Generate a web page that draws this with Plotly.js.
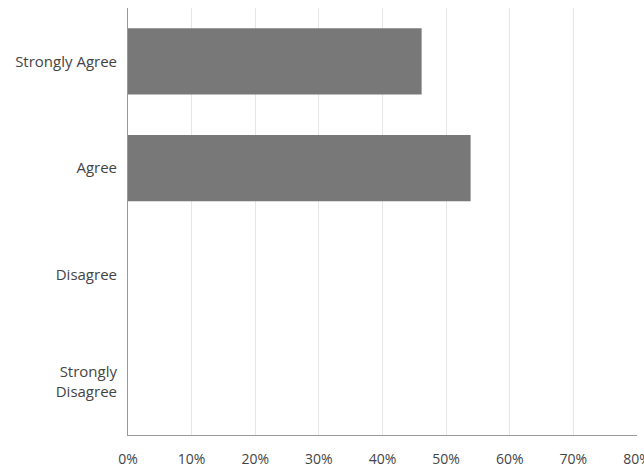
<!DOCTYPE html>
<html>
<head>
<meta charset="utf-8">
<script src="https://cdn.plot.ly/plotly-3.0.1.min.js"></script>
<style>
  html, body { margin: 0; padding: 0; background: #ffffff; }
  #chart { width: 644px; height: 472px; }
</style>
</head>
<body>
<div id="chart"></div>
<script>
const categories = ["Strongly Agree", "Agree", "Disagree", "Strongly<br>Disagree"];
const values = [46.15, 53.85, 0, 0];
const tickValues = [0, 10, 20, 30, 40, 50, 60, 70, 80];
const tickLabels = ["0%", "10%", "20%", "30%", "40%", "50%", "60%", "70%", "80%"];

const trace = {
  type: "bar",
  orientation: "h",
  x: values,
  y: categories,
  width: 0.62,
  marker: { color: "rgb(120,120,120)", line: { width: 0 } },
  hoverinfo: "none"
};

const layout = {
  width: 644,
  height: 472,
  margin: { l: 128, r: 7, t: 8, b: 37 },
  paper_bgcolor: "#ffffff",
  plot_bgcolor: "#ffffff",
  showlegend: false,
  font: { family: "Open Sans, Roboto, sans-serif", size: 15, color: "#444444" },
  xaxis: {
    range: [0, 80],
    tickvals: tickValues,
    ticktext: tickLabels,
    showgrid: true,
    gridcolor: "#e6e6e6",
    gridwidth: 1,
    zeroline: false,
    showline: true,
    linecolor: "#9a9a9a",
    linewidth: 1,
    ticks: "outside",
    ticklen: 11,
    tickcolor: "rgba(0,0,0,0)",
    ticklabeloverflow: "allow",
    tickfont: { family: "Open Sans, Roboto, sans-serif", size: 14, color: "#444444" },
    fixedrange: true
  },
  yaxis: {
    type: "category",
    categoryorder: "array",
    categoryarray: categories,
    autorange: "reversed",
    showgrid: false,
    zeroline: false,
    showline: true,
    linecolor: "#9a9a9a",
    linewidth: 1,
    ticks: "outside",
    ticklen: 7,
    tickcolor: "rgba(0,0,0,0)",
    tickfont: { family: "Open Sans, Roboto, sans-serif", size: 15, color: "#444444" },
    fixedrange: true
  }
};

Plotly.newPlot("chart", [trace], layout, { displayModeBar: false, staticPlot: true });
</script>
</body>
</html>
